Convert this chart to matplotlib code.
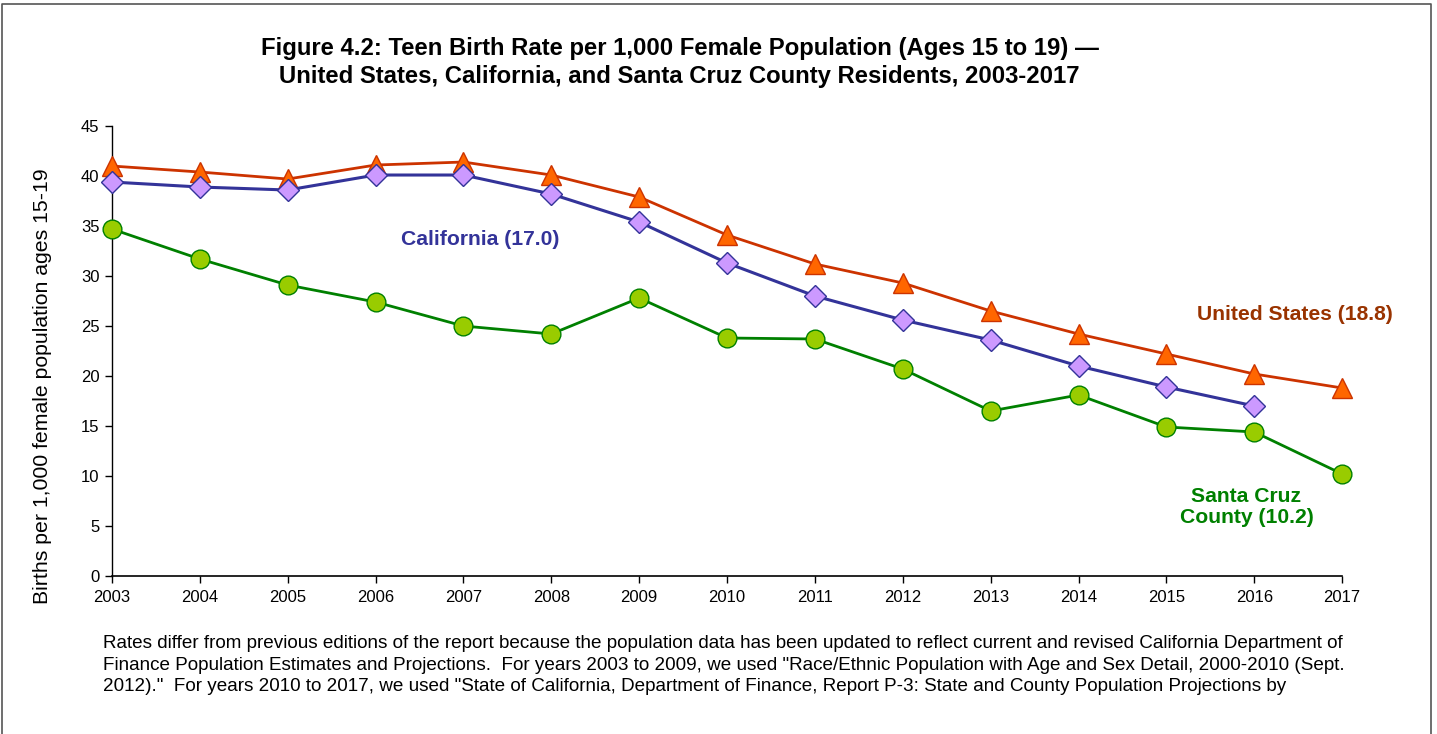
import matplotlib.pyplot as plt
from matplotlib.lines import Line2D

plt.rcParams['font.family'] = ['Liberation Sans', 'DejaVu Sans']

years = list(range(2003, 2018))
us_rate = [41.0, 40.4, 39.7, 41.1, 41.4, 40.1, 37.9, 34.1, 31.2, 29.3, 26.5, 24.2, 22.2, 20.2, 18.8]
ca_rate = [39.4, 38.9, 38.6, 40.1, 40.1, 38.2, 35.4, 31.3, 28.0, 25.6, 23.6, 21.0, 18.9, 17.0]
sc_rate = [34.7, 31.7, 29.1, 27.4, 25.0, 24.2, 27.8, 23.8, 23.7, 20.7, 16.5, 18.1, 14.9, 14.4, 10.2]
yticks = list(range(0, 46, 5))

title = ("Figure 4.2: Teen Birth Rate per 1,000 Female Population (Ages 15 to 19) \u2014\n"
         "United States, California, and Santa Cruz County Residents, 2003-2017")
note = ("Rates differ from previous editions of the report because the population data has been updated to reflect current and revised California Department of\n"
        "Finance Population Estimates and Projections.  For years 2003 to 2009, we used \"Race/Ethnic Population with Age and Sex Detail, 2000-2010 (Sept.\n"
        "2012).\"  For years 2010 to 2017, we used \"State of California, Department of Finance, Report P-3: State and County Population Projections by")

fig = plt.figure(figsize=(14.37, 7.34), dpi=100)
ax = fig.add_axes([0.0779, 0.2153, 0.934 - 0.0779, 0.8283 - 0.2153])

ax.plot(years, us_rate, color='#CC3300', lw=2, marker='^', ms=14,
        mfc='#FF6600', mec='#CC3300', mew=1, zorder=3)
ax.plot(years[:len(ca_rate)], ca_rate, color='#333399', lw=2.2, marker='D', ms=11.5,
        mfc='#CC99FF', mec='#333399', mew=1, zorder=4)
ax.plot(years, sc_rate, color='#008000', lw=2, marker='o', ms=13.5,
        mfc='#99CC00', mec='#008000', mew=1, zorder=5)

ax.set_xlim(2003, 2017)
ax.set_ylim(0, 45)
ax.set_xticks(years)
ax.set_yticks(yticks)
ax.tick_params(axis='both', labelsize=12, length=5, width=1, direction='out')
ax.tick_params(axis='y', pad=4)
ax.tick_params(axis='x', pad=5)
for s in ['top', 'right']:
    ax.spines[s].set_visible(False)
ax.spines['left'].set_linewidth(1)
ax.spines['bottom'].set_linewidth(1.2)
for m in ax.lines:
    m.set_clip_on(False)

fig.text(43 / 1437, 1 - 386.5 / 734, 'Births per 1,000 female population ages 15-19',
         fontsize=15.3, rotation=90, ha='center', va='center')

ax.text(2007.19, 33.7, 'California (17.0)', color='#333399', fontsize=15.2,
        fontweight='bold', ha='center', va='center')
ax.text(2016.46, 26.2, 'United States (18.8)', color='#993300', fontsize=15.2,
        fontweight='bold', ha='center', va='center')
ax.text(2015.91, 6.9, 'Santa Cruz\nCounty (10.2)', color='#008000', fontsize=15.2,
        fontweight='bold', ha='center', va='center', linespacing=1.15)

fig.text(0.473, 1 - 62.5 / 734, title, fontsize=17.2, fontweight='bold', ha='center',
         va='center', linespacing=1.32)
fig.text(0.0717, 1 - 665 / 734, note, fontsize=13.55, ha='left', va='center', linespacing=1.32)

# frame around the figure (no bottom edge)
fig.add_artist(Line2D([0.0015, 0.0015, 0.9958, 0.9958], [0.0, 0.9945, 0.9945, 0.0],
                      transform=fig.transFigure, color='#555555', lw=1.2))

fig.savefig('out.png', dpi=100)
